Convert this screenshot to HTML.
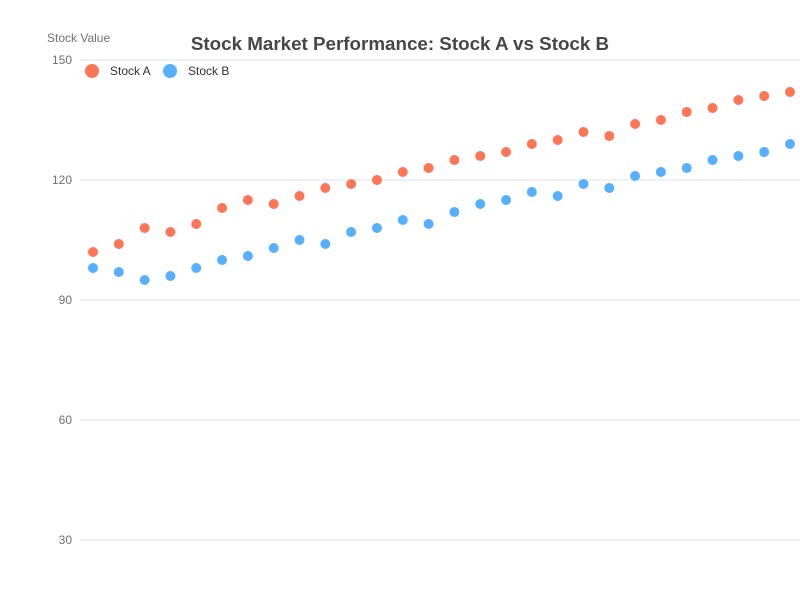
<!DOCTYPE html>
<html><head><meta charset="utf-8"><style>
body{margin:0;background:#fff;font-family:"Liberation Sans",sans-serif}
svg{display:block}
</style></head><body>
<svg id="c" width="800" height="600">
<text x="400" y="50" text-anchor="middle" font-size="18.8" font-weight="bold" fill="#464646">Stock Market Performance: Stock A vs Stock B</text>
<text x="47" y="42" font-size="12" fill="#6e7079">Stock Value</text>
<g>
<g><circle cx="92" cy="71" r="7" fill="#ff7657"/><text x="110" y="75" font-size="12" fill="#333">Stock A</text></g>
<g><circle cx="170" cy="71" r="7" fill="#57b0ff"/><text x="188" y="75" font-size="12" fill="#333">Stock B</text></g>
</g>
<g id="grid"></g><g id="pts"></g>
</svg>
<script>
const yTicks=[30,60,90,120,150];
const stockA=[102,104,108,107,109,113,115,114,116,118,119,120,122,123,125,126,127,129,130,132,131,134,135,137,138,140,141,142];
const stockB=[98,97,95,96,98,100,101,103,105,104,107,108,110,109,112,114,115,117,116,119,118,121,122,123,125,126,127,129];
const ns='http://www.w3.org/2000/svg';
const y=v=>540-(v-30)*4;
const x=i=>93+i*(790-93)/(stockA.length-1);
const g=document.getElementById('grid'),p=document.getElementById('pts');
yTicks.forEach(t=>{
 const l=document.createElementNS(ns,'line');
 
 
 l.setAttribute('x1',80);l.setAttribute('x2',800);l.setAttribute('y1',y(t));l.setAttribute('y2',y(t));
 l.setAttribute('stroke','#e0e6f1');g.appendChild(l);
 const tx=document.createElementNS(ns,'text');
 
 
 tx.setAttribute('x',72);tx.setAttribute('y',y(t)+4);tx.setAttribute('text-anchor','end');
 tx.setAttribute('font-size','12');tx.setAttribute('fill','#6e7079');tx.textContent=t;g.appendChild(tx);
});
[[stockA,'#ff7657','point-stock-a'],[stockB,'#57b0ff','point-stock-b']].forEach(([d,c,n])=>{
 d.forEach((v,i)=>{
  const ci=document.createElementNS(ns,'circle');
  
  
  ci.setAttribute('cx',x(i));ci.setAttribute('cy',y(v));ci.setAttribute('r',5);ci.setAttribute('fill',c);
  p.appendChild(ci);
 });
});
</script>
</body></html>
